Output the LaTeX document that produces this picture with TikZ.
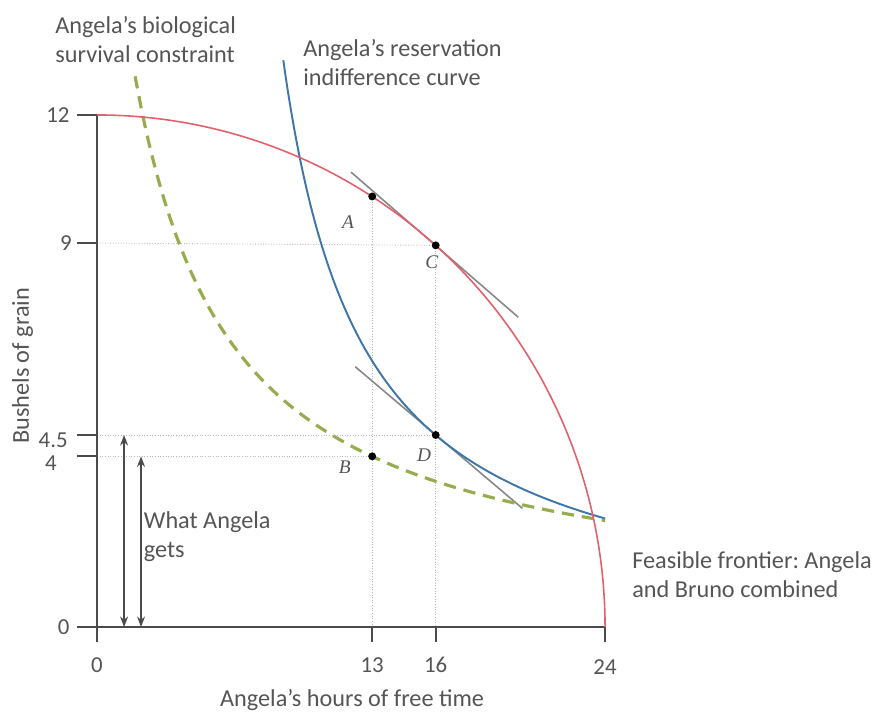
\documentclass[tikz,border=0pt]{standalone}
\usepackage{fontspec}
\setmainfont{Carlito}
\newfontfamily\ptfont{Liberation Serif}
\usetikzlibrary{arrows.meta}
\frenchspacing
\definecolor{txtgray}{RGB}{85,85,85}
\definecolor{axisgray}{RGB}{75,75,75}
\definecolor{frontred}{RGB}{226,96,108}
\definecolor{icblue}{RGB}{62,118,170}
\definecolor{survgreen}{RGB}{150,172,78}
\definecolor{tangray}{RGB}{135,135,135}
\begin{document}
\begin{tikzpicture}[x=0.4233cm,y=0.8533cm,
  font=\fontsize{13.8}{16.5}\selectfont, text=txtgray,
  axis/.style={draw=axisgray, line width=1.1pt},
  guide/.style={draw=gray!55, densely dotted, line width=0.5pt},
  tangent/.style={draw=tangray, line width=0.9pt},
  lbl/.style={align=left, anchor=west, inner sep=0pt},
  ptlbl/.style={font=\ptfont\itshape\fontsize{11}{11}\selectfont, inner sep=0pt},
  dot/.style={circle, fill=black, inner sep=0pt, minimum size=4.5pt},
  ylab/.style={anchor=east, inner sep=0pt, font=\fontsize{13}{13}\selectfont},
  xlab/.style={inner sep=0pt, font=\fontsize{13}{13}\selectfont}]
\useasboundingbox (-4.582,-2.016) rectangle (36.61,14.694);
% guide lines
\coordinate (O) at (0,0);
\coordinate (A) at (13,10.09);
\coordinate (B) at (13,4);
\coordinate (C) at (16,8.944);
\coordinate (D) at (16,4.5);
\draw[guide] (0,9) -- (C);
\draw[guide] (0,4.5) -- (D);
\draw[guide] (0,4) -- (B);
\draw[guide] (A) -- (13,0);
\draw[guide] (C) -- (16,0);
% axes and ticks
\draw[axis] (0,12) -- (O) -- (24,0);
\foreach \yv in {0,4,4.5,9,12}
  \draw[axis] (-0.95,\yv) -- (0,\yv);
\foreach \xv in {0,13,16,24}
  \draw[axis] (\xv,0) -- (\xv,-0.36);
\node[ylab] (y12) at (-1.28,12) {12};
\node[ylab] (y9) at (-1.18,9) {9};
\node[ylab] (y45) at (-1.37,4.37) {4.5};
\node[ylab] (y4) at (-1.89,3.85) {4};
\node[ylab] (y0) at (-1.28,0) {0};
\node[xlab] (x0) at (0,-0.89) {0};
\node[xlab] (x13) at (13,-0.89) {13};
\node[xlab] (x16) at (16,-0.89) {16};
\node[xlab] (x24) at (24,-0.93) {24};
\node (xtitle) at (12.05,-1.70) {Angela’s hours of free time};
\node[rotate=90] (ytitle) at (-3.52,6.12) {Bushels of grain};
% tangents
\draw[tangent] (12,10.66) -- (19.9,7.26);
\draw[tangent] (12.2,6.10) -- (20.1,2.78);
% curves
\draw[survgreen, line width=1.8pt, dash pattern=on 7pt off 4.5pt]
  plot[domain=1.8:24, samples=80, smooth] (\x,{0.34+57.8/(\x+2.8)});
\draw[icblue, line width=1.1pt]
  plot[domain=8.8:24, samples=80, smooth] (\x,{-0.14+51/(\x-5)});
\draw[frontred, line width=0.9pt]
  plot[domain=0:90, samples=90, smooth] ({24*cos(\x)},{12*sin(\x)});
% points
\node[dot] (Adot) at (A) {};
\node[dot] (Bdot) at (B) {};
\node[dot] (Cdot) at (C) {};
\node[dot] (Ddot) at (D) {};
\node[ptlbl] (Alab) at (11.86,9.49) {A};
\node[ptlbl] (Blab) at (11.71,3.75) {B};
\node[ptlbl] (Clab) at (15.82,8.55) {C};
\node[ptlbl] (Dlab) at (15.45,4.03) {D};
% what Angela gets
\coordinate (g1b) at (1.28,0);
\coordinate (g1t) at (1.28,4.5);
\coordinate (g2b) at (2.08,0);
\coordinate (g2t) at (2.08,4);
\draw[axisgray, line width=0.8pt, {Stealth[length=6pt,width=4.5pt]}-{Stealth[length=6pt,width=4.5pt]}] (g1b) -- (g1t);
\draw[axisgray, line width=0.8pt, {Stealth[length=6pt,width=4.5pt]}-{Stealth[length=6pt,width=4.5pt]}] (g2b) -- (g2t);
\node[lbl] (gets) at (2.2,2.11) {What Angela\\gets};
% curve labels
\node[lbl] (survlab) at (-1.98,13.76) {Angela’s biological\\survival constraint};
\node[lbl] (reslab) at (9.73,13.22) {Angela’s reservation\\indifference curve};
\node[lbl] (feaslab) at (25.27,1.22) {Feasible frontier: Angela\\and Bruno combined};
\end{tikzpicture}
\end{document}
